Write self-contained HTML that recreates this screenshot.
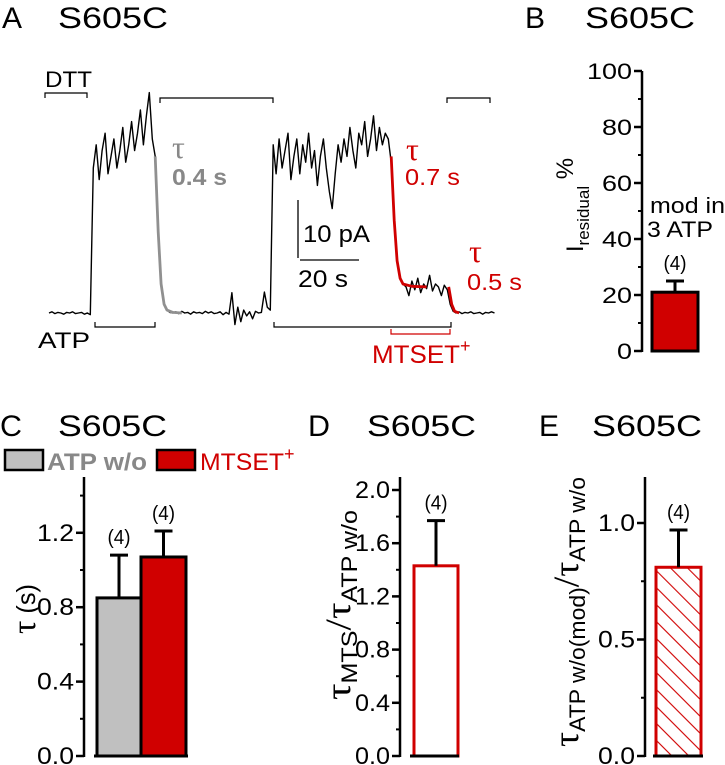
<!DOCTYPE html>
<html><head><meta charset="utf-8">
<style>
body{margin:0;background:#fff}
svg{display:block;font-family:"Liberation Sans",sans-serif}
.n{font-family:"Liberation Sans Narrow","Liberation Sans",sans-serif}
</style></head><body>
<svg id="fig" width="725" height="765" viewBox="0 0 725 765" xmlns="http://www.w3.org/2000/svg">
<defs>
<pattern id="hatch" patternUnits="userSpaceOnUse" width="12" height="12" patternTransform="rotate(-45)">
<line x1="0" y1="0" x2="0" y2="12" stroke="#d00000" stroke-width="2.2"/>
</pattern>
</defs>
<g>
<text x="2" y="28" font-size="30">A</text>
<text x="58" y="28" font-size="30" textLength="110" lengthAdjust="spacingAndGlyphs">S605C</text>
<text x="45" y="87" font-size="22" textLength="47" lengthAdjust="spacingAndGlyphs">DTT</text>
<text x="38" y="348" font-size="22" textLength="52" lengthAdjust="spacingAndGlyphs">ATP</text>
<text x="172" y="158" font-size="32" fill="#888" font-family="Liberation Serif,serif">τ</text>
<text x="172" y="185" font-size="23" font-weight="bold" fill="#888" textLength="55" lengthAdjust="spacingAndGlyphs">0.4 s</text>
<text x="406" y="160" font-size="32" fill="#d00000" font-family="Liberation Serif,serif">τ</text>
<text x="405" y="185" font-size="23" fill="#d00000" textLength="55" lengthAdjust="spacingAndGlyphs">0.7 s</text>
<text x="469" y="262" font-size="32" fill="#d00000" font-family="Liberation Serif,serif">τ</text>
<text x="467" y="290" font-size="23" fill="#d00000" textLength="55" lengthAdjust="spacingAndGlyphs">0.5 s</text>
<line x1="298" y1="200" x2="298" y2="258" stroke="#000" stroke-width="1.3"/>
<line x1="300" y1="260" x2="359" y2="260" stroke="#000" stroke-width="1.3"/>
<text x="303" y="242" font-size="24" textLength="67" lengthAdjust="spacingAndGlyphs">10 pA</text>
<text x="298" y="287" font-size="24" textLength="50" lengthAdjust="spacingAndGlyphs">20 s</text>
<text x="372" y="363" font-size="25" fill="#d00000"><tspan textLength="88" lengthAdjust="spacingAndGlyphs">MTSET</tspan><tspan font-size="18" dy="-11">+</tspan></text>
<g fill="none" stroke="#000" stroke-width="1.2">
<path d="M45,98V93H87V98"/>
<path d="M160,103V98H273V103"/>
<path d="M447,103V98H490V103"/>
<path d="M95,322V327H155V322"/>
<path d="M274,322V327H451V322"/>
<path d="M391,329V334H450V329" stroke="#d00000"/>
</g>
<g id="trace"></g>
</g>
<text x="525" y="28" font-size="30">B</text>
<text x="585" y="28" font-size="30" textLength="110" lengthAdjust="spacingAndGlyphs">S605C</text>
<text x="0" y="436" font-size="30" textLength="22" lengthAdjust="spacingAndGlyphs">C</text>
<text x="58" y="436" font-size="30" textLength="109" lengthAdjust="spacingAndGlyphs">S605C</text>
<text x="308" y="436" font-size="30" textLength="22" lengthAdjust="spacingAndGlyphs">D</text>
<text x="367" y="436" font-size="30" textLength="109" lengthAdjust="spacingAndGlyphs">S605C</text>
<text x="539" y="436" font-size="30" textLength="20" lengthAdjust="spacingAndGlyphs">E</text>
<text x="592" y="436" font-size="30" textLength="110" lengthAdjust="spacingAndGlyphs">S605C</text>
<rect x="5" y="450" width="38" height="20" fill="#c0c0c0" stroke="#000" stroke-width="2.5"/>
<text x="47" y="470" font-size="24" font-weight="bold" fill="#888" textLength="100" lengthAdjust="spacingAndGlyphs">ATP w/o</text>
<rect x="157" y="450" width="38" height="20" fill="#d00000" stroke="#000" stroke-width="2.5"/>
<text x="200" y="470" font-size="24" fill="#d00000"><tspan textLength="84" lengthAdjust="spacingAndGlyphs">MTSET</tspan><tspan font-size="18" dy="-10">+</tspan></text>
<text x="650" y="213" font-size="22" textLength="75" lengthAdjust="spacingAndGlyphs">mod in</text>
<text x="647" y="237" font-size="22" textLength="66" lengthAdjust="spacingAndGlyphs">3 ATP</text>
<g id="charts"></g>
<text transform="translate(583,205) rotate(-90)" font-size="24" text-anchor="middle">I<tspan font-size="17" dy="6">residual</tspan><tspan dy="-16"> %</tspan></text>
<text transform="translate(35,609) rotate(-90)" font-size="26" text-anchor="middle" textLength="50" lengthAdjust="spacingAndGlyphs"><tspan font-family="Liberation Serif,serif" font-size="34">τ</tspan> (s)</text>
<text transform="translate(350,605) rotate(-90)" font-size="36" text-anchor="middle" font-family="Liberation Serif,serif" textLength="190" lengthAdjust="spacingAndGlyphs">τ<tspan font-family="Liberation Sans" font-size="22" dy="7">MTS</tspan><tspan dy="-7">/τ</tspan><tspan font-family="Liberation Sans" font-size="22" dy="7">ATP w/o</tspan></text>
<text transform="translate(578,612) rotate(-90)" font-size="36" text-anchor="middle" font-family="Liberation Serif,serif" textLength="270" lengthAdjust="spacingAndGlyphs">τ<tspan font-family="Liberation Sans" font-size="22" dy="7">ATP w/o(mod)</tspan><tspan dy="-7">/τ</tspan><tspan font-family="Liberation Sans" font-size="22" dy="7">ATP w/o</tspan></text>
</svg>
<script>
// ---- Trace data (panel A): time in s (1 s step), current in pA
const traceCurrent = [
0,0.2,-0.1,0.1,0,-0.2,0.1,0,0.2,-0.1,0,0.1,-0.2,0,-0.3,
25,29,23,28,31,24,27,30,25,28,32,26,29,33,28,31,35,29,34,38,30,
27,14,5,1.5,0.5,0.1,
0,0.2,-0.1,0.3,0,0.1,-0.2,0.2,0,0.1,-0.1,0.3,0,0.2,-0.1,0,0.2,-0.3,0.1,-0.2,3.5,-2,1,-1.5,0.5,-0.5,0.2,-1,0.3,0,0.1,3.6,1,0.5,
29,24,30,25,28,31,23,27,30,24,29,26,31,25,28,22,27,30,25,21,18,24,29,26,30,27,32,28,25,31,29,33,27,30,34,28,32,29,31,30,
26,16,9,6,5,
4.5,3,5.5,4,6,3.5,5,4.2,6.5,3.8,5,4.5,3,4.8,4,
1.5,0.3,
0,0.2,-0.1,0.1,0,0.2,-0.1,0,0.1,-0.2,0.1,0,0.2,0];
const grayFitT = [36,37,38,39,40,42,45];
const grayFitV = [27,14,5,1.5,0.5,0.1,0];
const redFit1T = [116,117,118,119,120,123,128];
const redFit1V = [27,16,9,6,5,4.6,4.5];
const redFit2T = [135.5,136.5,137.5,139];
const redFit2V = [4.5,1.5,0.3,0];

// ---- Bar chart data
const bValues = [21];
const bErrors = [4];
const bTicks = ["0","20","40","60","80","100"];
const cCategories = ["ATP w/o","MTSET+"];
const cValues = [0.85,1.07];
const cErrors = [0.23,0.14];
const cTicks = ["0.0","0.4","0.8","1.2"];
const dValues = [1.43];
const dErrors = [0.34];
const dTicks = ["0.0","0.4","0.8","1.2","1.6","2.0"];
const eValues = [0.81];
const eErrors = [0.16];
const eTicks = ["0.0","0.5","1.0"];
const nLabels = ["(4)"];

const NS="http://www.w3.org/2000/svg";
function mk(tag,attrs,parent){const e=document.createElementNS(NS,tag);for(const k in attrs)e.setAttribute(k,attrs[k]);parent.appendChild(e);return e;}

const tx = t => 49 + t*2.95;
const ty = v => 313 - v*5.8;
const trace=document.getElementById('trace');
function poly(ts,vs,color,w,name){
  const p=ts.map((t,i)=>tx(t).toFixed(1)+','+ty(vs[i]).toFixed(1)).join(' ');
  const el=mk('polyline',{points:p,fill:'none',stroke:color,'stroke-width':w,'stroke-linejoin':'round'},trace);
  
  
}
poly(traceCurrent.map((v,i)=>i),traceCurrent,'#000',1.4,'raw-current-trace');
poly(grayFitT,grayFitV,'#909090',2.8,'gray-exponential-fit');
poly(redFit1T,redFit1V,'#d00000',2.8,'red-exponential-fit-1');
poly(redFit2T,redFit2V,'#d00000',2.8,'red-exponential-fit-2');

const charts=document.getElementById('charts');
function axis(ax,y0,yTop,scale,ticks,minorStep,maxV,name,fs,lw){
  const yf=v=>y0-v*scale;
  const g=mk('g',{},charts);
  
  
  mk('line',{x1:ax,y1:y0+1,x2:ax,y2:yTop,stroke:'#000','stroke-width':2.5},g);
  for(let v=0;v<=maxV+1e-9;v+=minorStep){mk('line',{x1:ax-4,y1:yf(v),x2:ax,y2:yf(v),stroke:'#000','stroke-width':2},g);}
  ticks.forEach(t=>{
    const v=parseFloat(t);
    mk('line',{x1:ax-8,y1:yf(v),x2:ax,y2:yf(v),stroke:'#000','stroke-width':2.5},g);
    const tl=mk('text',{x:ax-10,y:yf(v)+8,'font-size':fs,'text-anchor':'end',textLength:lw*t.length/3,lengthAdjust:'spacingAndGlyphs'},g);
    tl.textContent=t;
    
    
  });
  return yf;
}
function bar(yf,x,w,v,err,fill,stroke,name,label){
  const r=mk('rect',{x:x,y:yf(v),width:w,height:yf(0)-yf(v),fill:fill,stroke:stroke,'stroke-width':3},charts);
  
  
  const cx=x+w/2;
  const e=mk('path',{d:`M${cx},${yf(v)}V${yf(v+err)}M${cx-9},${yf(v+err)}H${cx+9}`,stroke:'#000','stroke-width':3,fill:'none'},charts);
  
  
  const t=mk('text',{x:cx,y:yf(v+err)-11,'font-size':20,'text-anchor':'middle',textLength:23,lengthAdjust:'spacingAndGlyphs'},charts);
  t.textContent=label;
  
  
}
function base(x1,x2,y){const l=mk('line',{x1:x1,y1:y,x2:x2,y2:y,stroke:'#000','stroke-width':3},charts);
  
  }

// Panel B
const yB=axis(642,351,71,2.8,bTicks,10,100,'panel-b',22,45);
bar(yB,652,46,bValues[0],bErrors[0],'#d00000','#000','bar-residual',nLabels[0]);
// Panel C
const yC=axis(84,756,477,186,cTicks,0.2,1.4,'panel-c',24,37);
bar(yC,97,44,cValues[0],cErrors[0],'#c0c0c0','#000','bar-atp-wo',nLabels[0]);
bar(yC,141,45,cValues[1],cErrors[1],'#d00000','#000','bar-mtset',nLabels[0]);
base(94,188,756);
// Panel D
const yD=axis(400,756,477,133,dTicks,0.2,2.0,'panel-d',24,35);
bar(yD,414,44,dValues[0],dErrors[0],'#fff','#d00000','bar-tau-ratio',nLabels[0]);
base(410,459,756);
// Panel E
const yE=axis(645,756,477,233,eTicks,0.25,1.0,'panel-e',24,37);
bar(yE,656,45,eValues[0],eErrors[0],'url(#hatch)','#d00000','bar-tau-mod-ratio',nLabels[0]);
base(653,703,756);
</script>
</body></html>
